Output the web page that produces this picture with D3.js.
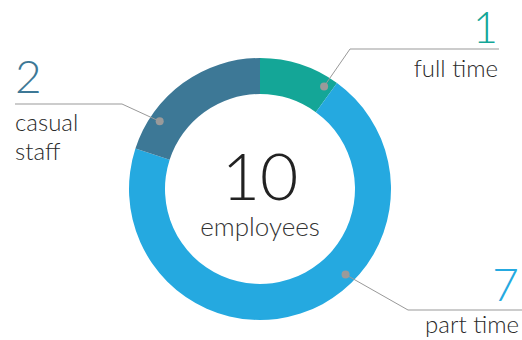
<!DOCTYPE html>
<html>
<head>
<meta charset="utf-8">
<style>
  body { margin: 0; background: #fff; }
  text { font-family: Lato, "Open Sans", sans-serif; font-weight: 300; }
</style>
</head>
<body>
<div id="chart"></div>
<script src="https://cdn.jsdelivr.net/npm/d3@7"></script>
<script>
// data
var categories = ["full time", "part time", "casual staff"];
var counts = [1, 7, 2];
var colors = ["#14a697", "#25a9e0", "#3d7896"];
var totalLabel = "employees";

var width = 522, height = 340;
var cx = 260, cy = 189, outerR = 131, innerR = 95;

var svg = d3.select("#chart").append("svg")
    .attr("width", width)
    .attr("height", height);

var g = svg.append("g").attr("transform", "translate(" + cx + "," + cy + ")");

var pie = d3.pie().sort(null).value(function (d) { return d; });
var arcs = pie(counts);
var arc = d3.arc().innerRadius(innerR).outerRadius(outerR);

g.selectAll("path")
    .data(arcs)
    .enter().append("path")
    .attr("d", arc)
    .attr("fill", function (d, i) { return colors[i]; });

// centre text
var total = d3.sum(counts);
g.append("text")
    .attr("text-anchor", "middle")
    .attr("y", 11)
    .style("font-size", "66px")
    .style("fill", "#222")
    .text(total);
g.append("text")
    .attr("text-anchor", "middle")
    .attr("y", 47)
    .style("font-size", "26px")
    .style("fill", "#333")
    .text(totalLabel);

// callout layout per slice: dot angle (deg), elbow, line end, side, label offsets
var callouts = [
    { ang: 32,  r: 121, elbow: [350, 49],  end: 499, textX: 498, side: "right", numDy: -6, numSize: 43, labDy: 28 },
    { ang: 135, r: 121, elbow: [408, 310], end: 522, textX: 519, side: "right", numDy: -9, numSize: 46, labDy: 23 },
    { ang: 304, r: 121, elbow: [122, 104], end: 15,  textX: 15,  side: "left",  numDy: -11, numSize: 46, labDy: 27 }
];

callouts.forEach(function (c, i) {
    var a = c.ang * Math.PI / 180;
    var px = cx + c.r * Math.sin(a), py = cy - c.r * Math.cos(a);
    svg.append("polyline")
        .attr("points", [[px, py], c.elbow, [c.end, c.elbow[1]]].map(function (p) { return p.join(","); }).join(" "))
        .attr("fill", "none")
        .attr("stroke", "#999")
        .attr("stroke-width", 1);
    svg.append("circle")
        .attr("cx", px).attr("cy", py).attr("r", 4)
        .attr("fill", "#9a9a9a");

    var anchor = c.side === "right" ? "end" : "start";
    svg.append("text")
        .attr("x", c.textX)
        .attr("y", c.elbow[1] + c.numDy)
        .attr("text-anchor", anchor)
        .style("font-size", c.numSize + "px")
        .style("fill", colors[i])
        .text(counts[i]);

    var words = c.side === "left" ? categories[i].split(" ") : [categories[i]];
    words.forEach(function (w, j) {
        svg.append("text")
            .attr("x", c.textX)
            .attr("y", c.elbow[1] + c.labDy + j * 29)
            .attr("text-anchor", anchor)
            .style("font-size", "24px")
            .style("fill", "#2a2a2a")
            .text(w);
    });
});
</script>
</body>
</html>
